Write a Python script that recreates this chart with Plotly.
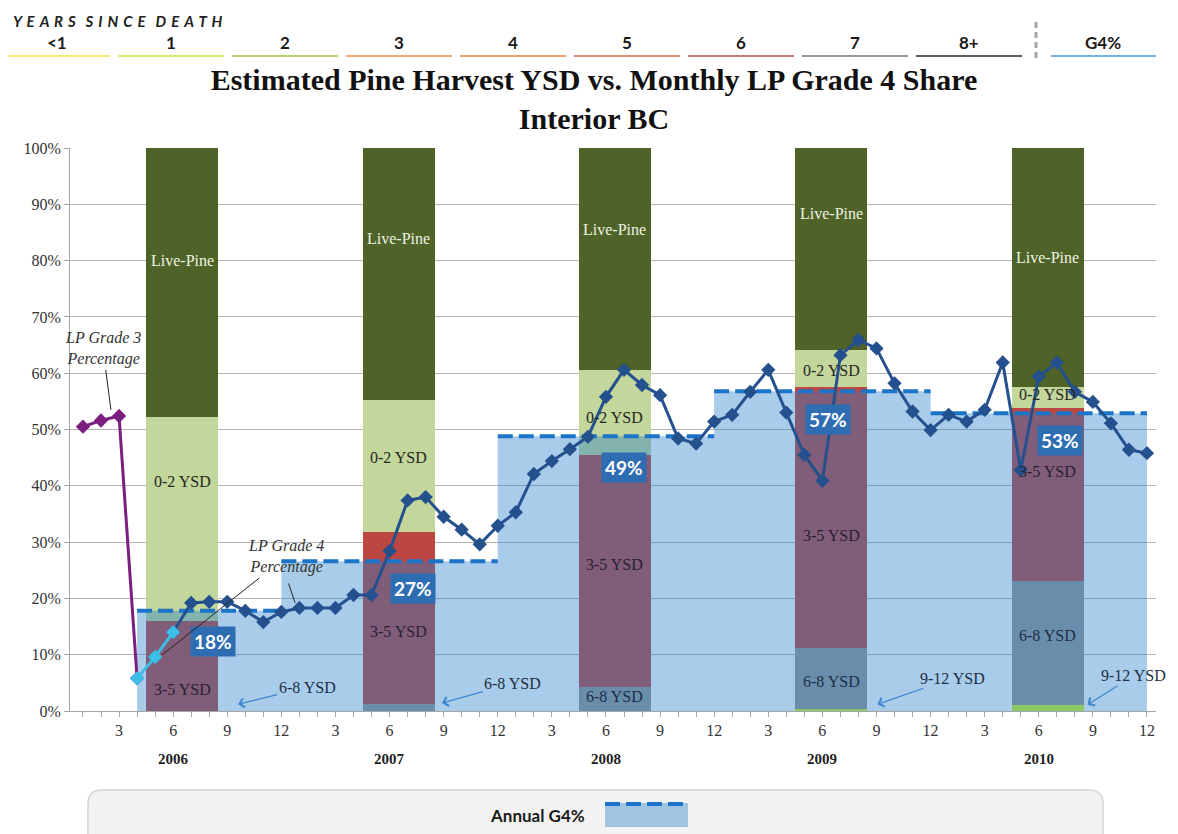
import plotly.graph_objects as go

# ---------------- data ----------------
# month index: 1 = Jan 2006 ... 60 = Dec 2010
g3_month = [1, 2, 3, 4]
g3_pct = [50.5, 51.6, 52.4, 5.8]

g4_early_month = [4, 5, 6]
g4_early_pct = [5.8, 9.6, 14.0]

g4_month = list(range(6, 61))
g4_pct = [14.0, 19.2, 19.4, 19.4, 17.8, 15.8, 17.6, 18.3, 18.3, 18.3, 20.6, 20.6,
          28.4, 37.4, 38.0, 34.5, 32.2, 29.6, 32.9, 35.3, 42.1, 44.4, 46.5, 48.7,
          55.8, 60.6, 57.9, 56.1, 48.4, 47.5, 51.4, 52.6, 56.7, 60.6, 53.0, 45.5,
          40.9, 63.2, 65.9, 64.4, 58.2, 53.2, 49.9, 52.6, 51.4, 53.5, 61.9, 42.8,
          59.4, 61.9, 56.7, 54.9, 51.1, 46.4, 45.8]

annual_bounds = [4, 12, 24, 36, 48, 60]
annual_g4 = [17.8, 26.6, 48.8, 56.8, 52.9]

years = ["2006", "2007", "2008", "2009", "2010"]
bar_month = [6.5, 18.5, 30.5, 42.5, 54.5]
ysd_9_12 = [0.0, 0.0, 0.0, 0.4, 1.0]
ysd_6_8 = [0.0, 1.2, 4.2, 10.8, 22.1]
ysd_3_5 = [16.0, 30.6, 41.3, 46.4, 30.7]
ysd_0_2 = [36.3, 23.5, 15.0, 6.5, 3.8]
live_pine = [100 - a - b - c - d for a, b, c, d in zip(ysd_9_12, ysd_6_8, ysd_3_5, ysd_0_2)]

ysd_classes = ["<1", "1", "2", "3", "4", "5", "6", "7", "8+"]
tick_months = list(range(3, 61, 3))
tick_text = [str((m - 1) % 12 + 1) for m in tick_months]
y_ticks = list(range(0, 101, 10))
y_tick_text = [f"{v}%" for v in y_ticks]

# ---------------- styling / layout helpers ----------------
SERIF = "Liberation Serif, Times New Roman, serif"
SANS = "Lato, Open Sans, sans-serif"
OFF = 8                      # page body margin of the html page
W_FIG, H_FIG = 1170, 826
L, R, T, B = 62, 22, 140, 123
PW, PH = W_FIG - L - R, H_FIG - T - B
def pxx(xs): return (xs - OFF - L) / PW            # screen px -> paper x
def pxy(ys): return (H_FIG - B - (ys - OFF)) / PH  # screen px -> paper y

AREA_FILL = "rgba(38,128,203,0.40)"
DASH_BLUE = "#1c74c8"
col_9_12 = "#d2fa1e"
col_6_8 = "#969696"
col_3_5 = "#bc4642"
col_0_2 = "#c3d69b"
col_live = "#4f6228"
ysd_line_colors = ["#f0f06e", "#dde86c", "#b7d46a", "#f4a779", "#f09e78",
                   "#d99272", "#c07b6e", "#9a9a9a", "#5f5f5f"]

fig = go.Figure()

# stacked YSD bars
segments = [(ysd_9_12, col_9_12), (ysd_6_8, col_6_8), (ysd_3_5, col_3_5),
            (ysd_0_2, col_0_2), (live_pine, col_live)]
base = [0.0] * len(bar_month)
for vals, col in segments:
    fig.add_trace(go.Bar(x=bar_month, y=vals, base=list(base), width=4,
                         marker=dict(color=col, line=dict(width=0)),
                         showlegend=False, hoverinfo="skip"))
    base = [b + v for b, v in zip(base, vals)]

# annual G4% area (semi-transparent, above bars)
fig.add_trace(go.Scatter(x=annual_bounds, y=annual_g4 + [annual_g4[-1]],
                         mode="lines", line=dict(width=0, shape="hv"),
                         fill="tozeroy", fillcolor=AREA_FILL,
                         showlegend=False, hoverinfo="skip"))
# annual dashed segments
dx, dy = [], []
for i, v in enumerate(annual_g4):
    dx += [annual_bounds[i], annual_bounds[i + 1], None]
    dy += [v, v, None]
fig.add_trace(go.Scatter(x=dx, y=dy, mode="lines",
                         line=dict(color=DASH_BLUE, width=4, dash="15px,6px"),
                         showlegend=False, hoverinfo="skip"))

# monthly lines
fig.add_trace(go.Scatter(x=g3_month, y=g3_pct, mode="lines+markers",
                         line=dict(color="#7b1f7e", width=3),
                         marker=dict(symbol="diamond", size=11, color="#7b1f7e"),
                         showlegend=False))
fig.add_trace(go.Scatter(x=g4_month, y=g4_pct, mode="lines+markers",
                         line=dict(color="#24508e", width=3),
                         marker=dict(symbol="diamond", size=11, color="#24508e"),
                         showlegend=False))
fig.add_trace(go.Scatter(x=g4_early_month, y=g4_early_pct, mode="lines+markers",
                         line=dict(color="#3cbfe6", width=3),
                         marker=dict(symbol="diamond", size=11, color="#3cbfe6"),
                         showlegend=False))

ann = []
# bar segment labels
live_label_y = [80.0, 84.0, 85.6, 88.3, 80.5]
ysd02_label_y = [40.7, 45.0, 52.2, 60.4, 56.3]
ysd35_label_y = [3.9, 14.2, 26.1, 31.1, 42.5]
ysd68_label_y = [None, None, 2.5, 5.3, 13.5]
for i, xm in enumerate(bar_month):
    ann.append(dict(x=xm, y=live_label_y[i], text="Live-Pine", showarrow=False,
                    font=dict(family=SERIF, size=16, color="#eef2e2")))
    ann.append(dict(x=xm, y=ysd02_label_y[i], text="0-2 YSD", showarrow=False,
                    font=dict(family=SERIF, size=16, color="#262626")))
    ann.append(dict(x=xm, y=ysd35_label_y[i], text="3-5 YSD", showarrow=False,
                    font=dict(family=SERIF, size=16, color="#2a2233")))
    if ysd68_label_y[i] is not None:
        ann.append(dict(x=xm, y=ysd68_label_y[i], text="6-8 YSD", showarrow=False,
                        font=dict(family=SERIF, size=16, color="#1e2e45")))

# outside YSD arrows
outside = [("6-8 YSD", 9.6, 1.2, 69, -17), ("6-8 YSD", 20.9, 1.4, 71, -20),
           ("9-12 YSD", 45.05, 1.2, 75, -26), ("9-12 YSD", 56.7, 1.1, 46, -29)]
for txt, xm, yv, ax, ay in outside:
    ann.append(dict(x=xm, y=yv, text=txt, showarrow=True, ax=ax, ay=ay,
                    arrowhead=4, arrowsize=1.4, arrowwidth=1.3, arrowcolor="#3f86d0",
                    standoff=0, font=dict(family=SERIF, size=16, color="#1e2e45")))

# annual value boxes
annual_label_x = [8.2, 19.3, 31.0, 42.3, 55.2]
annual_label_y = [12.4, 21.8, 43.2, 51.7, 48.0]
for xm, yv, v in zip(annual_label_x, annual_label_y, annual_g4):
    ann.append(dict(x=xm, y=yv, text=f"<b>{round(v)}%</b>", showarrow=False,
                    bgcolor="#2f6db3", borderpad=3,
                    font=dict(family=SANS, size=19, color="white")))

# LP grade leader annotations
ann.append(dict(x=2.55, y=53.5, text="<i>LP Grade 3<br>Percentage</i>", showarrow=True,
                ax=-8, ay=-61, arrowhead=0, arrowwidth=1, arrowcolor="#222",
                font=dict(family=SERIF, size=16, color="#333")))
ann.append(dict(x=5.38, y=9.95, text="<i>LP Grade 4<br>Percentage</i>", showarrow=True,
                ax=124, ay=-98, arrowhead=0, arrowwidth=1, arrowcolor="#222",
                font=dict(family=SERIF, size=16, color="#333")))
ann.append(dict(x=12.76, y=19.2, text="", showarrow=True,
                ax=-7, ay=-21, arrowhead=0, arrowwidth=1, arrowcolor="#222"))

def paper_text(xs, ys, text, size, family=SANS, color="#1a1a1a", xanchor="center"):
    return dict(x=pxx(xs), y=pxy(ys), xref="paper", yref="paper", text=text,
                showarrow=False, xanchor=xanchor, yanchor="middle",
                font=dict(family=family, size=size, color=color))

# year labels
year_label_x = [6, 18, 30, 42, 54]
for xm, yr in zip(year_label_x, years):
    ann.append(dict(x=xm, y=pxy(759), yref="paper", text=f"<b>{yr}</b>", showarrow=False,
                    xanchor="center", yanchor="middle",
                    font=dict(family=SERIF, size=15, color="#222")))

shapes = []
# top legend
heading = "   ".join(" \u2009".join(w) for w in ["YEARS", "SINCE", "DEATH"])
ann.append(paper_text(11, 21, f"<b><i>{heading}</i></b>", 15, color="#222", xanchor="left"))
for i, (lab, col) in enumerate(zip(ysd_classes, ysd_line_colors)):
    x0 = 4 + 114 * i
    x1 = x0 + 106
    shapes.append(dict(type="line", xref="paper", yref="paper", x0=pxx(x0), x1=pxx(x1),
                       y0=pxy(56), y1=pxy(56), line=dict(color=col, width=2)))
    ann.append(paper_text((x0 + x1) / 2, 43, f"<b>{lab}</b>", 17))
shapes.append(dict(type="line", xref="paper", yref="paper", x0=pxx(1051), x1=pxx(1156),
                   y0=pxy(56), y1=pxy(56), line=dict(color="#74b4e4", width=2)))
ann.append(paper_text(1103, 43, "<b>G4%</b>", 17))
shapes.append(dict(type="line", xref="paper", yref="paper", x0=pxx(1036), x1=pxx(1036),
                   y0=pxy(22), y1=pxy(58), line=dict(color="#a6a6a6", width=3, dash="6px,4px")))

# bottom legend box
bx0, bx1, by0, by1 = pxx(88), pxx(1103), pxy(790), pxy(860)
rx, ry = 14 / PW, 14 / PH
path = (f"M {bx0+rx},{by0} L {bx1-rx},{by0} Q {bx1},{by0} {bx1},{by0-ry} "
        f"L {bx1},{by1} L {bx0},{by1} L {bx0},{by0-ry} Q {bx0},{by0} {bx0+rx},{by0} Z")
shapes.append(dict(type="path", xref="paper", yref="paper", path=path,
                   fillcolor="#f2f2f2", line=dict(color="#d4d4d4", width=1.5)))
shapes.append(dict(type="rect", xref="paper", yref="paper", x0=pxx(605), x1=pxx(688),
                   y0=pxy(827), y1=pxy(803), fillcolor=AREA_FILL, line=dict(width=0)))
shapes.append(dict(type="line", xref="paper", yref="paper", x0=pxx(605), x1=pxx(688),
                   y0=pxy(804), y1=pxy(804), line=dict(color=DASH_BLUE, width=4, dash="15px,6px")))
ann.append(paper_text(537, 815, "<b>Annual G4%</b>", 17))

fig.update_layout(
    width=W_FIG, height=H_FIG,
    margin=dict(l=L, r=R, t=T, b=B, pad=0),
    paper_bgcolor="white", plot_bgcolor="white",
    barmode="overlay", bargap=0,
    title=dict(text="<b>Estimated Pine Harvest YSD vs. Monthly LP Grade 4 Share<br>Interior BC</b>",
               x=(594 - OFF) / W_FIG, xref="container", xanchor="center",
               y=1 - (90 - OFF) / H_FIG, yref="container", yanchor="middle",
               font=dict(family=SERIF, size=30, color="#111")),
    xaxis=dict(range=[0.28, 60.5], tickmode="array", tickvals=tick_months, ticktext=tick_text,
               showgrid=False, zeroline=False, showline=True, linecolor="#a6a6a6", linewidth=1,
               ticks="outside", ticklen=5, tickcolor="#a6a6a6",
               minor=dict(dtick=1, tick0=0, ticks="outside", ticklen=5, tickcolor="#a6a6a6", showgrid=False),
               tickfont=dict(family=SERIF, size=16, color="#333")),
    yaxis=dict(range=[0, 100], tickmode="array", tickvals=y_ticks, ticktext=y_tick_text,
               showgrid=True, gridcolor="#b5b5b5", gridwidth=1, zeroline=False,
               showline=True, linecolor="#a6a6a6", ticks="outside", ticklen=5, tickcolor="#a6a6a6",
               tickfont=dict(family=SERIF, size=16, color="#333")),
    annotations=ann, shapes=shapes,
    showlegend=False,
)

fig.write_html("out.html")
